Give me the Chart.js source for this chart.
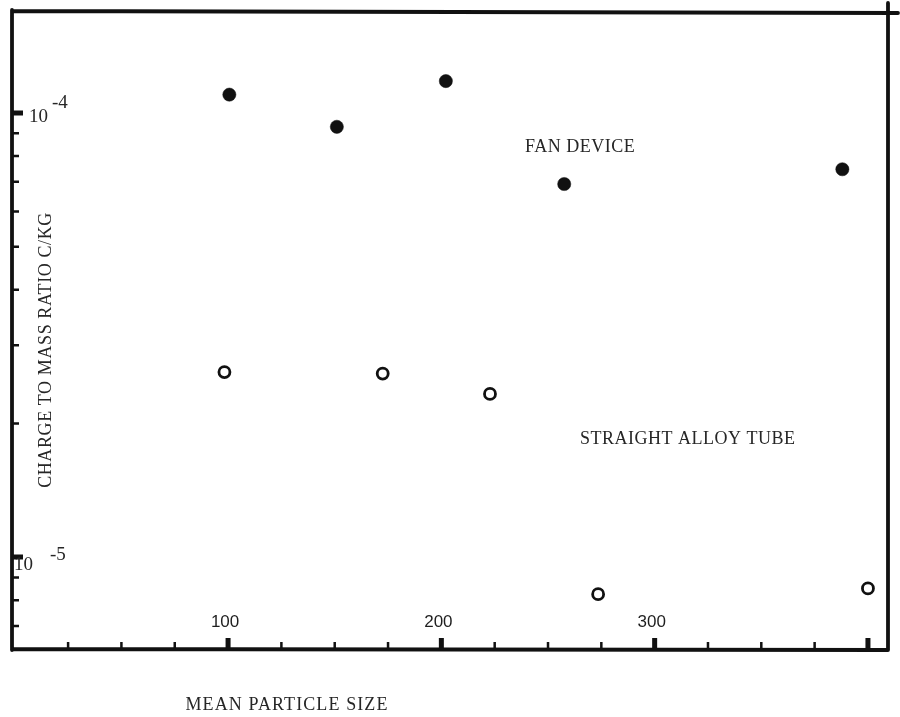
<!DOCTYPE html>
<html><head><meta charset="utf-8">
<script src="https://cdn.jsdelivr.net/npm/chart.js@4.4.1/dist/chart.umd.min.js"></script>
<style>html,body{margin:0;padding:0;background:#fff}#wrap{width:900px;height:717px}</style>
</head><body><div id="wrap"><canvas id="c" width="900" height="717"></canvas></div>
<script>
// ---- data ----
const fanSize   = [100.6, 151.0, 202.1, 257.6, 388.0];
const fanRatio  = [1.10e-4, 9.31e-5, 1.18e-4, 6.92e-5, 7.47e-5];
const tubeSize  = [98.3, 172.5, 222.8, 273.5, 400.0];
const tubeRatio = [2.61e-5, 2.59e-5, 2.33e-5, 8.25e-6, 8.50e-6];

const xMajorTicks = [100, 200, 300, 400];
const xMinorTicks = [25, 50, 75, 125, 150, 175, 225, 250, 275, 325, 350, 375];
const xTickLabels = ["100", "200", "300"];
const yMajorTicks = [1e-5, 1e-4];
const yMinorTicks = [7e-6, 8e-6, 9e-6, 2e-5, 3e-5, 4e-5, 5e-5, 6e-5, 7e-5, 8e-5, 9e-5];
const yExponentLabels = ["-5", "-4"];

const seriesNames = ["FAN DEVICE", "STRAIGHT ALLOY TUBE"];
const seriesLabelAt = [[239.2, 8.38e-5], [265.0, 1.845e-5]];
const xTitle = "MEAN PARTICLE SIZE";
const yTitle = "CHARGE TO MASS RATIO C/KG";

const INK = '#111111';
const TYPE = '#262626';
const typeFont = '"Liberation Serif", serif';

function typed(ctx, txt, x, y, size, spacing) {
  ctx.save();
  ctx.font = size + 'px ' + typeFont;
  ctx.letterSpacing = spacing + 'px';
  ctx.fillStyle = TYPE;
  ctx.fillText(txt, x, y);
  ctx.restore();
}

const framePlugin = {
  id: 'frame',
  afterDraw(chart) {
    const ctx = chart.ctx;
    const a = chart.chartArea;
    const xs = chart.scales.x, ys = chart.scales.y;
    ctx.save();
    ctx.strokeStyle = INK;
    ctx.lineCap = 'round';
    ctx.lineWidth = 3.8;
    ctx.beginPath();
    ctx.moveTo(a.left, a.top - 1); ctx.lineTo(a.left, a.bottom + 1);
    ctx.moveTo(a.left, a.bottom); ctx.lineTo(a.right, a.bottom + 1);
    ctx.moveTo(a.left, a.top); ctx.lineTo(a.right + 10, a.top + 2);
    ctx.moveTo(a.right, a.top - 8); ctx.lineTo(a.right, a.bottom + 1);
    ctx.stroke();

    // x ticks (pointing inward)
    ctx.lineCap = 'butt';
    ctx.lineWidth = 2.5;
    ctx.beginPath();
    xMinorTicks.forEach(v => { const p = xs.getPixelForValue(v); ctx.moveTo(p, a.bottom); ctx.lineTo(p, a.bottom - 7); });
    ctx.stroke();
    ctx.lineWidth = 5;
    ctx.beginPath();
    xMajorTicks.forEach(v => { const p = xs.getPixelForValue(v); ctx.moveTo(p, a.bottom); ctx.lineTo(p, a.bottom - 11); });
    ctx.stroke();

    // y ticks
    ctx.lineWidth = 2.5;
    ctx.beginPath();
    yMinorTicks.forEach(v => { const p = ys.getPixelForValue(v); ctx.moveTo(a.left, p); ctx.lineTo(a.left + 7, p); });
    ctx.stroke();
    ctx.lineWidth = 5;
    ctx.beginPath();
    yMajorTicks.forEach(v => { const p = ys.getPixelForValue(v); ctx.moveTo(a.left, p); ctx.lineTo(a.left + 11, p); });
    ctx.stroke();

    // x tick labels (inside, above the axis)
    ctx.font = '17px "Liberation Sans", Arial, sans-serif';
    ctx.fillStyle = '#1e1e1e';
    ctx.textAlign = 'center';
    ctx.textBaseline = 'alphabetic';
    xTickLabels.forEach((t, i) => {
      const p = xs.getPixelForValue(xMajorTicks[i]);
      ctx.fillText(t, p - 3, a.bottom - 22);
    });

    // y decade labels 10^-5, 10^-4
    ctx.textAlign = 'left';
    yMajorTicks.forEach((v, i) => {
      const p = ys.getPixelForValue(v);
      if (i === 0) {
        typed(ctx, '10', a.left + 2, p + 13, 19, 0);
        typed(ctx, yExponentLabels[i], a.left + 38, p + 3, 19, 0);
      } else {
        typed(ctx, '10', a.left + 17, p + 9, 19, 0);
        typed(ctx, yExponentLabels[i], a.left + 40, p - 5, 19, 0);
      }
    });

    // series labels
    ctx.textBaseline = 'middle';
    seriesNames.forEach((n, i) => {
      const [vx, vy] = seriesLabelAt[i];
      typed(ctx, n, xs.getPixelForValue(vx), ys.getPixelForValue(vy), 18, 0.5);
    });

    // axis titles
    ctx.textAlign = 'center';
    typed(ctx, xTitle, 287, 705, 18, 1.1);
    ctx.save();
    ctx.translate(46, 350);
    ctx.rotate(-Math.PI / 2);
    typed(ctx, yTitle, 0, 0, 18, 0.6);
    ctx.restore();
    ctx.restore();
  }
};

new Chart(document.getElementById('c'), {
  type: 'scatter',
  data: {
    datasets: [
      {
        label: seriesNames[0],
        data: fanSize.map((x, i) => ({ x, y: fanRatio[i] })),
        pointRadius: 6.6,
        pointBackgroundColor: INK,
        pointBorderColor: INK,
        pointBorderWidth: 0.5
      },
      {
        label: seriesNames[1],
        data: tubeSize.map((x, i) => ({ x, y: tubeRatio[i] })),
        pointRadius: 5.5,
        pointBackgroundColor: '#fff',
        pointBorderColor: INK,
        pointBorderWidth: 2.8
      }
    ]
  },
  options: {
    responsive: false,
    animation: false,
    devicePixelRatio: 1,
    layout: { padding: { left: 12, right: 12, top: 11, bottom: 68 } },
    plugins: { legend: { display: false }, tooltip: { enabled: false } },
    scales: {
      x: { type: 'linear', min: -1.3, max: 409.4, display: false },
      y: { type: 'logarithmic', min: 6.21e-6, max: 1.697e-4, display: false }
    }
  },
  plugins: [framePlugin]
});
</script>
</body></html>
